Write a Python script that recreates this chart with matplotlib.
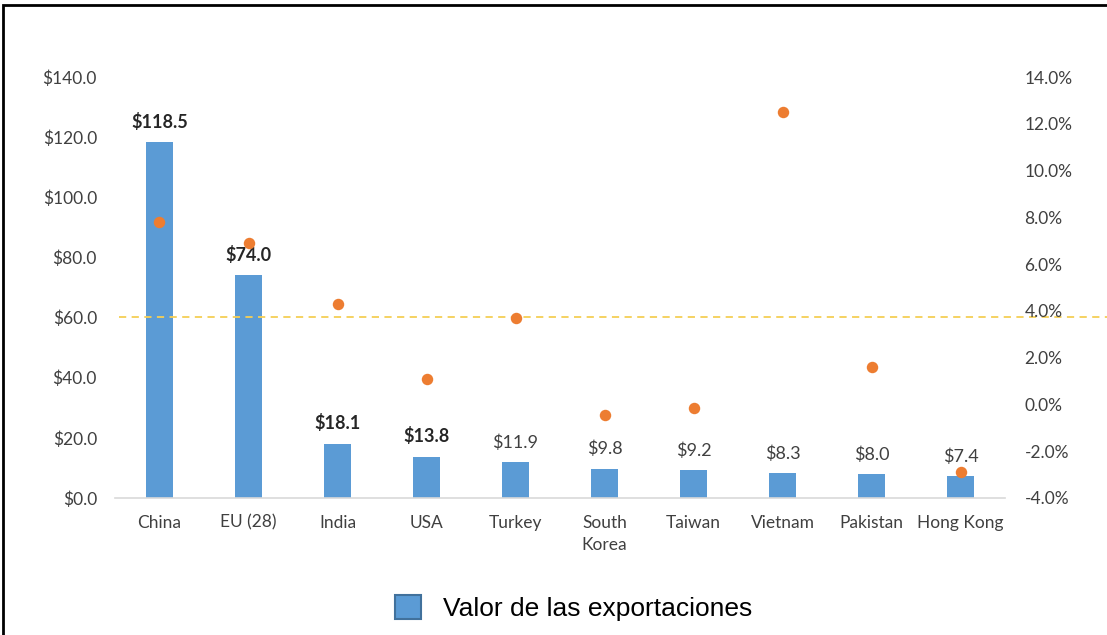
import matplotlib
matplotlib.use("Agg")
import matplotlib.pyplot as plt
from matplotlib.patches import Patch, Rectangle
import matplotlib.transforms as mtransforms

countries = ["China", "EU (28)", "India", "USA", "Turkey", "South\nKorea",
             "Taiwan", "Vietnam", "Pakistan", "Hong Kong"]
export_values = [118.5, 74.0, 18.1, 13.8, 11.9, 9.8, 9.2, 8.3, 8.0, 7.4]
growth_pct = [7.8, 6.9, 4.3, 1.1, 3.7, -0.45, -0.15, 12.5, 1.6, -2.9]
avg_growth = 3.75
bold_labels = [True, True, True, True, False, False, False, False, False, False]
left_ticks = [0, 20, 40, 60, 80, 100, 120, 140]
right_ticks = [-4, -2, 0, 2, 4, 6, 8, 10, 12, 14]
legend_label = "Valor de las exportaciones"

BAR = "#5b9bd5"
DOT = "#ed7d31"
TXT = "#404040"
FONT = ["Lato", "DejaVu Sans"]

fig = plt.figure(figsize=(11.07, 6.35), dpi=100)
ax = fig.add_axes([115 / 1107, 137 / 635, 890 / 1107, 421 / 635])
x = list(range(len(countries)))
ax.bar(x, export_values, width=0.31, color=BAR, zorder=2)
ax.set_xlim(-0.5, len(countries) - 0.5)
ax.set_ylim(0, 140)
ax.set_yticks(left_ticks)
ax.set_yticklabels([f"${v:.1f}" for v in left_ticks], family=FONT, fontsize=12.5, color=TXT)
ax.set_xticks(x)
ax.set_xticklabels(countries, family=FONT, fontsize=12.5, color=TXT, linespacing=1.5)
ax.tick_params(axis="both", length=0)
ax.tick_params(axis="y", pad=13)
ax.tick_params(axis="x", pad=12)
for s in ["top", "left", "right"]:
    ax.spines[s].set_visible(False)
ax.spines["bottom"].set_color("#d9d9d9")
ax.spines["bottom"].set_linewidth(1.2)

for xi, v, b in zip(x, export_values, bold_labels):
    ax.annotate(f"${v:.1f}", (xi, v), xytext=(0, 8), textcoords="offset points",
                ha="center", va="bottom", family=FONT, fontsize=13,
                fontweight="bold" if b else "normal", color="#262626" if b else TXT)

ax2 = ax.twinx()
ax2.set_ylim(-4, 14)
ax2.set_yticks(right_ticks)
ax2.set_yticklabels([f"{v:.1f}%" for v in right_ticks], family=FONT, fontsize=12.5, color=TXT)
ax2.tick_params(axis="y", length=0, pad=14)
for s in ["top", "left", "right", "bottom"]:
    ax2.spines[s].set_visible(False)
ax2.scatter(x, growth_pct, s=68, color=DOT, zorder=3, linewidths=0)
trans = mtransforms.blended_transform_factory(ax2.transAxes, ax2.transData)
ax2.plot([0.004, 1.12], [avg_growth, avg_growth], transform=trans, clip_on=False,
         color="#f5cf55", linestyle=(0, (4, 3)), linewidth=1.3, zorder=1)

handle = Patch(facecolor=BAR, edgecolor="#41719c", linewidth=1.5)
fig.legend([handle], [legend_label], loc="center", bbox_to_anchor=(0.518, 0.042),
           frameon=False, prop={"family": ["Liberation Sans", "DejaVu Sans"], "size": 19},
           handlelength=1.0, handleheight=1.0, handletextpad=0.8)

fig.patches.append(Rectangle((3 / 1107, -0.1), 1.2, 1.1 - 5 / 635, transform=fig.transFigure,
                             fill=False, edgecolor="black", linewidth=2, clip_on=False))

fig.savefig("out.png", dpi=100)
